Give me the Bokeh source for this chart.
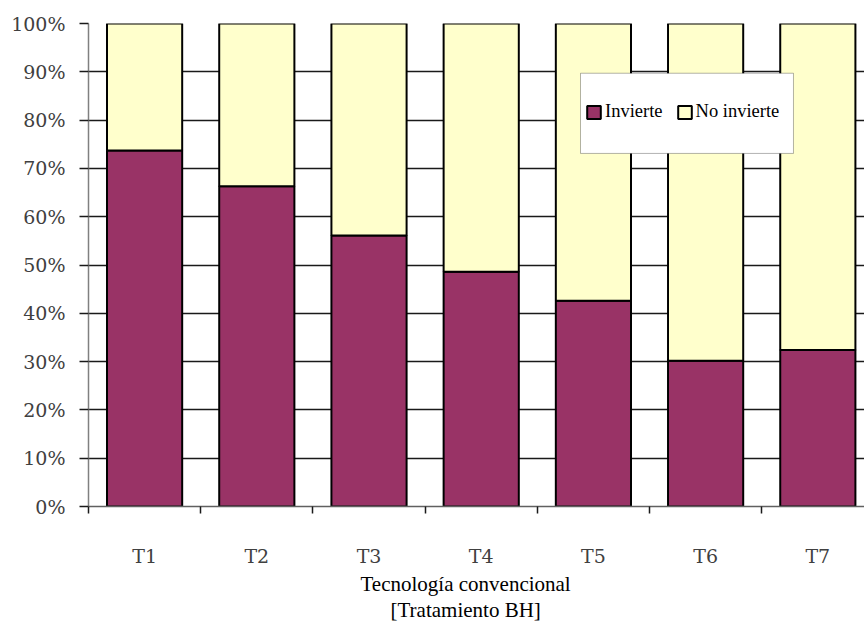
from bokeh.plotting import figure
from bokeh.models import (FixedTicker, Range1d, Legend, LegendItem, BoxAnnotation,
                          Title, ColumnDataSource)
from bokeh.embed import file_html
from bokeh.resources import INLINE

# Share of producers by treatment (percent)
treatments = ["T1", "T2", "T3", "T4", "T5", "T6", "T7"]
invierte = [73.7, 66.3, 56.1, 48.6, 42.6, 30.2, 32.4]
no_invierte = [26.3, 33.7, 43.9, 51.4, 57.4, 69.8, 67.6]
y_ticks = [0, 10, 20, 30, 40, 50, 60, 70, 80, 90, 100]
y_tick_labels = ["0%", "10%", "20%", "30%", "40%", "50%", "60%", "70%", "80%", "90%", "100%"]
series_names = ["Invierte", "No invierte"]
series_colors = ["#993366", "#FFFFCC"]

centers = [i + 0.5 for i in range(len(treatments))]
bounds = [float(i) for i in range(len(treatments) + 1)]

src = ColumnDataSource(dict(x=centers, inv=invierte, noinv=no_invierte))

p = figure(width=864, height=621, output_backend="svg", toolbar_location=None,
           x_range=Range1d(0, 6.916), y_range=Range1d(0, 100),
           min_border_left=88, min_border_right=0, min_border_top=23,
           min_border_bottom=114)
p.outline_line_color = None
p.background_fill_color = "white"
p.border_fill_color = "white"

renderers = p.vbar_stack(["inv", "noinv"], x="x", width=0.67, source=src,
                         color=series_colors, line_color="black", line_width=2)

# grid
p.xgrid.grid_line_color = None
p.ygrid.ticker = FixedTicker(ticks=y_ticks)
p.ygrid.grid_line_color = "#1a1a1a"
p.ygrid.grid_line_width = 1.3

# y axis
yax = p.yaxis[0]
yax.ticker = FixedTicker(ticks=y_ticks)
yax.major_label_overrides = {t: l for t, l in zip(y_ticks, y_tick_labels)}
yax.axis_line_color = "#808080"
yax.axis_line_width = 1.5
yax.major_tick_line_color = "#1a1a1a"
yax.major_tick_line_width = 1.3
yax.major_tick_out = 9
yax.major_tick_in = 0
yax.minor_tick_line_color = None
yax.major_label_standoff = 14
yax.major_label_text_font = "DejaVu Serif"
yax.major_label_text_font_size = "19px"
yax.major_label_text_color = "#404040"

# x axis: labels at category centres, ticks at category boundaries
xax = p.xaxis[0]
xax.ticker = FixedTicker(ticks=centers, minor_ticks=bounds)
xax.major_label_overrides = {c: t for c, t in zip(centers, treatments)}
xax.axis_line_color = "#606060"
xax.axis_line_width = 1.5
xax.major_tick_line_color = None
xax.major_tick_out = 0
xax.major_tick_in = 0
xax.minor_tick_line_color = "#1a1a1a"
xax.minor_tick_line_width = 1.5
xax.minor_tick_out = 7
xax.minor_tick_in = 0
xax.major_label_standoff = 31
xax.major_label_text_font = "DejaVu Serif"
xax.major_label_text_font_size = "19px"
xax.major_label_text_color = "#404040"

# axis title, two lines below the category labels
for txt, off in [("Tecnología convencional", 272), ("[Tratamiento BH]", 302)]:
    p.add_layout(Title(text=txt, align="left", offset=off, standoff=0,
                       text_font="Liberation Serif", text_font_size="21px",
                       text_font_style="normal", text_color="black"), "below")

# legend frame
p.add_layout(BoxAnnotation(left=4.385, right=6.283, bottom=73.1, top=89.7,
                           fill_color="white", fill_alpha=1.0,
                           line_color="black", line_width=1, level="annotation"))

legend = Legend(items=[LegendItem(label=n, renderers=[r])
                       for n, r in zip(series_names, renderers)],
                orientation="horizontal", location=(497, 384),
                padding=7, spacing=13, margin=0, label_standoff=3,
                glyph_width=17, glyph_height=16, label_height=16,
                label_text_font="Liberation Serif", label_text_font_size="18.5px",
                label_text_color="black",
                border_line_color=None, background_fill_alpha=0.0)
p.add_layout(legend)

open("out.html", "w").write(file_html(p, INLINE))
